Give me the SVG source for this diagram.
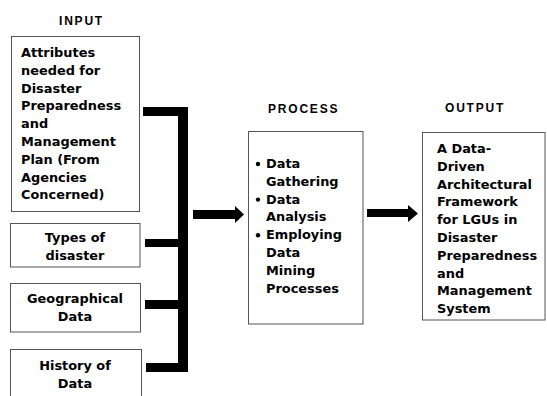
<svg xmlns="http://www.w3.org/2000/svg" width="547" height="396" viewBox="0 0 547 396">
<style>
.box{fill:#fff;stroke:#555;stroke-width:1}
.t{font-family:"DejaVu Sans",Verdana,sans-serif;font-weight:bold;font-size:12.9px;fill:#000}
.c{text-anchor:middle}
.h{font-family:"Liberation Sans",Arial,sans-serif;font-weight:bold;font-size:12px;letter-spacing:1.8px;fill:#000}
.bar{fill:#000}
</style>
<rect width="547" height="396" fill="#fff"/>
<g id="headings">
<text class="h" x="59" y="25">INPUT</text>
<text class="h" x="268" y="113">PROCESS</text>
<text class="h" x="445" y="112">OUTPUT</text>
</g>
<g id="input1">
<rect class="box" x="11.5" y="36.5" width="128" height="175"/>
<text class="t" x="21" y="57">Attributes</text>
<text class="t" x="21" y="74.8">needed for</text>
<text class="t" x="21" y="92.6">Disaster</text>
<text class="t" x="21" y="110.4">Preparedness</text>
<text class="t" x="21" y="128.2">and</text>
<text class="t" x="21" y="146">Management</text>
<text class="t" x="21" y="163.8">Plan (From</text>
<text class="t" x="21" y="181.6">Agencies</text>
<text class="t" x="21" y="199.4">Concerned)</text>
</g>
<g id="input2">
<rect class="box" x="10.5" y="223.5" width="129.5" height="43.5"/>
<text class="t c" x="75" y="242">Types of</text>
<text class="t c" x="75" y="260">disaster</text>
</g>
<g id="input3">
<rect class="box" x="10.5" y="283.5" width="130" height="48.5"/>
<text class="t c" x="75" y="303">Geographical</text>
<text class="t c" x="75" y="321">Data</text>
</g>
<g id="input4">
<rect class="box" x="10.5" y="349.5" width="131" height="60"/>
<text class="t c" x="75" y="370">History of</text>
<text class="t c" x="75" y="388">Data</text>
</g>
<g id="process">
<rect class="box" x="248.5" y="131.5" width="114.5" height="192.5"/>
<circle cx="258" cy="164" r="2.2" fill="#000"/>
<circle cx="258" cy="199.6" r="2.2" fill="#000"/>
<circle cx="258" cy="235.2" r="2.2" fill="#000"/>
<text class="t" x="266" y="168">Data</text>
<text class="t" x="266" y="185.8">Gathering</text>
<text class="t" x="266" y="203.6">Data</text>
<text class="t" x="266" y="221.4">Analysis</text>
<text class="t" x="266" y="239.2">Employing</text>
<text class="t" x="266" y="257">Data</text>
<text class="t" x="266" y="274.8">Mining</text>
<text class="t" x="266" y="292.6">Processes</text>
</g>
<g id="output">
<rect class="box" x="422.5" y="132.5" width="122.5" height="187.5"/>
<text class="t" x="437" y="153">A Data-</text>
<text class="t" x="437" y="170.8">Driven</text>
<text class="t" x="437" y="188.6">Architectural</text>
<text class="t" x="437" y="206.4">Framework</text>
<text class="t" x="437" y="224.2">for LGUs in</text>
<text class="t" x="437" y="242">Disaster</text>
<text class="t" x="437" y="259.8">Preparedness</text>
<text class="t" x="437" y="277.6">and</text>
<text class="t" x="437" y="295.4">Management</text>
<text class="t" x="437" y="313.2">System</text>
</g>
<g id="connectors">
<path class="bar" d="M143,107H188V372H146V363H178V309H145V300H178V247H145V239H178V116H143Z"/>
<polygon class="bar" points="193,210 235,210 235,206 244,214.5 235,223 235,219 193,219"/>
<polygon class="bar" points="367,209 408,209 408,205 418,213.5 408,222 408,217 367,217"/>
</g>
</svg>
